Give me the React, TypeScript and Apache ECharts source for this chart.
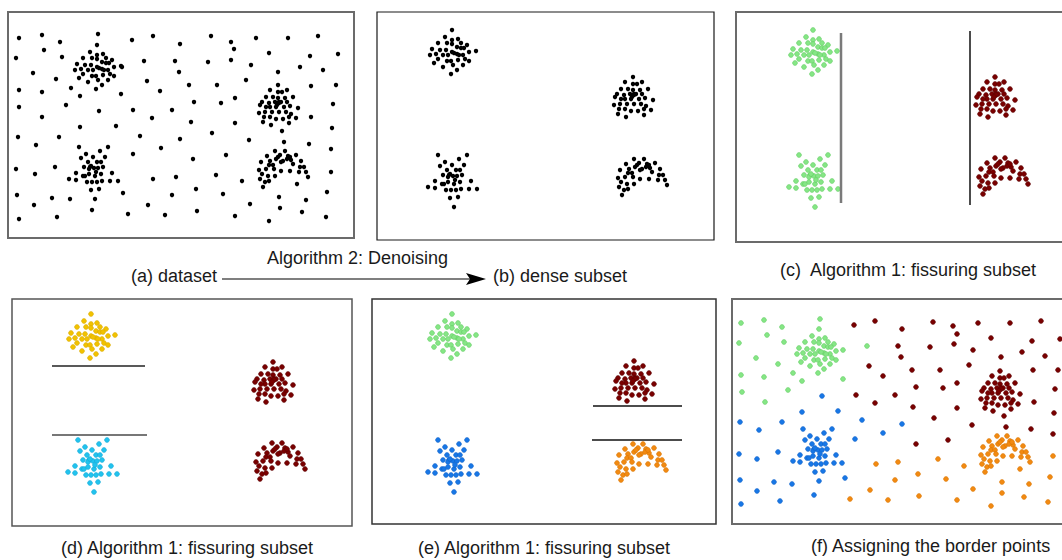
import React, { useEffect, useRef } from "react";
import * as echarts from "echarts";

// ---- cluster shapes (offsets from each cluster's centre, px units) ----
const CLUSTER_DIAMOND: number[][] = [[-1,-23],[-8,-16],[-1,-13],[5,-14],[-15,-10],[-6,-10],[-1,-9],[8,-10],[14,-8],[-21,-4],[-13,-3],[-7,-3],[4,-6],[8,-5],[11,-5],[23,-2],[-23,2],[-17,1],[-10,2],[-5,2],[-1,-1],[4,1],[10,2],[16,-1],[-15,6],[-6,8],[-2,8],[5,7],[12,6],[-19,10],[-10,14],[0,12],[10,12],[16,8],[4,17],[-2,21],[1,0],[6,2]];
const CLUSTER_BLOB: number[][] = [[0,-20],[-8,-15],[0,-13],[4,-13],[9,-15],[-12,-8],[-5,-8],[0,-7],[7,-7],[15,-8],[-16,-3],[-9,-2],[-3,-3],[1,-3],[3,-3],[9,-3],[-8,2],[-2,2],[6,2],[12,1],[-18,0],[20,3],[-19,8],[-13,7],[-6,7],[1,7],[8,7],[13,9],[-14,12],[-8,12],[-2,14],[5,14],[11,12],[18,13],[-15,17],[-7,20],[11,18],[1,-2],[-1,0],[-12,2]];
const CLUSTER_STAR: number[][] = [[-14,-22],[15,-22],[-7,-15],[7,-18],[-12,-11],[0,-12],[12,-12],[-5,-7],[4,-7],[8,-7],[-9,-2],[-3,-2],[1,-1],[5,-1],[10,-2],[-17,4],[-10,7],[-8,7],[-4,5],[2,7],[8,5],[19,4],[-24,10],[-17,11],[-6,13],[-1,13],[4,13],[9,12],[17,12],[25,12],[-2,21],[6,20],[2,30],[-4,0],[-2,-3],[3,3]];
const CLUSTER_ARC: number[][] = [[-8,-18],[2,-18],[-16,-13],[-3,-14],[5,-13],[13,-14],[-13,-8],[-7,-10],[0,-8],[8,-9],[18,-8],[-22,-7],[-14,-4],[-10,-4],[-2,-7],[4,-10],[10,-5],[17,-2],[21,-2],[-24,1],[-17,0],[-9,0],[-2,2],[7,2],[16,3],[23,3],[-21,5],[-15,7],[-8,7],[25,8],[-23,10],[-18,13],[-14,12],[-20,18],[7,-12],[-5,-12]];

// ---- cluster centres per panel [diamond, blob, star, arc] ----
const CENTERS_A: number[][] = [[90,56],[270,93],[85,157],[275,157]];
const CENTERS_B: number[][] = [[76,41],[256,85],[75,165],[265,165]];
const CENTERS_C: number[][] = [[78,41],[259,85],[77,165],[267,164]];
const CENTERS_D: number[][] = [[80,38],[261,83],[80,163],[268,162]];
const CENTERS_E: number[][] = [[81,38],[262,82],[80,163],[269,163]];
const CENTERS_F: number[][] = [[88,53],[268,92],[85,152],[273,155]];

// ---- noise points of the full dataset (panel a) ----
const NOISE_A: number[][] = [[11,26],[34,23],[52,30],[90,22],[124,28],[145,24],[172,32],[203,24],[223,30],[248,26],[280,26],[310,24],
[8,46],[36,38],[54,45],[136,49],[167,49],[200,50],[223,48],[226,37],[261,41],[302,44],[330,42],
[25,61],[48,67],[114,55],[139,69],[171,60],[243,53],[270,60],[292,55],[315,58],
[11,78],[34,80],[63,76],[72,84],[113,82],[152,79],[181,73],[209,73],[238,68],[303,74],[328,73],
[11,95],[58,93],[91,99],[125,98],[164,98],[186,90],[213,91],[227,86],[325,92],
[34,105],[144,106],[183,110],[227,111],[303,105],
[72,115],[108,114],[324,116],
[10,125],[51,125],[132,124],[172,127],[204,121],[241,128],[274,119],[276,130],
[28,133],[153,136],[301,132],[323,137],
[125,142],[185,147],[218,143],
[8,157],[47,155],[27,162],[145,167],[168,165],[208,163],[234,169],[323,160],
[289,172],[115,181],[164,183],[188,177],[215,182],[319,180],
[9,183],[44,186],[62,187],[271,185],[298,188],
[26,193],[140,193],[242,192],[272,196],
[84,198],[120,202],[157,203],[189,199],[227,204],[294,200],[318,205],
[11,207],[49,205],[261,209]];

// ---- border points assigned in panel f ----
const F_GREEN: number[][] = [[9,24],[32,21],[50,28],[88,20],[35,36],[7,44],[52,43],[24,59],[46,65],[9,76],[32,78],[61,74],[70,82],[111,80],[10,93],[56,91],[33,103],[135,47]];
const F_RED: number[][] = [[122,26],[143,22],[170,30],[201,23],[221,27],[225,35],[246,24],[278,24],[309,22],[166,47],[198,48],[222,45],[241,51],[259,39],[300,42],[328,40],[290,53],[313,57],[269,58],[137,67],[169,58],[180,71],[208,71],[237,66],[301,71],[326,71],[151,77],[184,88],[211,89],[225,84],[323,90],[124,96],[163,96],[143,104],[181,108],[225,109],[302,103],[202,119],[240,126],[272,117],[274,128],[322,114],[299,130],[321,135],[184,145],[216,141]];
const F_BLUE: number[][] = [[90,97],[70,113],[106,112],[8,123],[50,123],[27,131],[130,121],[170,125],[151,134],[123,140],[7,155],[46,153],[25,160],[113,179],[8,181],[42,183],[60,185],[25,192],[82,196],[48,202],[9,205]];
const F_ORANGE: number[][] = [[144,165],[166,163],[206,160],[232,167],[186,175],[163,181],[214,180],[138,191],[118,200],[156,201],[187,197],[225,201],[241,190],[270,183],[270,194],[259,207],[292,198],[297,185],[316,203],[318,178],[321,157],[288,170]];

// ---- fissuring lines ----
const C_LINES: number[][][] = [[[105,21],[105,191]],[[234,19],[234,193]]];
const D_LINES: number[][][] = [[[40,67],[133,67]],[[40,136],[135,136]]];
const E_LINES: number[][][] = [[[221,107],[310,107]],[[220,141],[310,141]]];

// ---- captions ----
const CAPTIONS = {
  arrow: "Algorithm 2: Denoising",
  a: "(a) dataset",
  b: "(b) dense subset",
  c: "(c)  Algorithm 1: fissuring subset",
  d: "(d) Algorithm 1: fissuring subset",
  e: "(e) Algorithm 1: fissuring subset",
  f: "(f) Assigning the border points",
};

const BLACK = "#000000";
const GREEN = "#86e686";
const DARKRED = "#7a0000";
const GOLD = "#f2c200";
const CYAN = "#22c3ee";
const BLUE = "#1877e6";
const ORANGE = "#f28a12";

const BORDER: Record<string, string> = {
  [BLACK]: BLACK,
  [GREEN]: "#62cc62",
  [DARKRED]: "#5a0000",
  [GOLD]: "#d9a900",
  [CYAN]: "#10a9d6",
  [BLUE]: "#0f62c8",
  [ORANGE]: "#d97300",
};

const SHAPES = [CLUSTER_DIAMOND, CLUSTER_BLOB, CLUSTER_STAR, CLUSTER_ARC];

export default function App() {
  const ref = useRef<HTMLDivElement>(null);
  useEffect(() => {
    if (!ref.current) return;
    const chart = echarts.init(ref.current, undefined, { renderer: "svg" });

    const boxes = [
      { left: 8, top: 12, width: 346, height: 226, border: "#6b6b6b", bw: 2 },
      { left: 377, top: 12, width: 337, height: 228, border: "#1a1a1a", bw: 1.2 },
      { left: 736, top: 12, width: 340, height: 230, border: "#6b6b6b", bw: 2 },
      { left: 12, top: 299, width: 340, height: 227, border: "#555555", bw: 1.5 },
      { left: 372, top: 299, width: 344, height: 225, border: "#333333", bw: 1.5 },
      { left: 732, top: 299, width: 340, height: 225, border: "#6b6b6b", bw: 2 },
    ];
    const centers = [CENTERS_A, CENTERS_B, CENTERS_C, CENTERS_D, CENTERS_E, CENTERS_F];
    const clusterColors = [
      [BLACK, BLACK, BLACK, BLACK],
      [BLACK, BLACK, BLACK, BLACK],
      [GREEN, DARKRED, GREEN, DARKRED],
      [GOLD, DARKRED, CYAN, DARKRED],
      [GREEN, DARKRED, BLUE, ORANGE],
      [GREEN, DARKRED, BLUE, ORANGE],
    ];

    const grid: any[] = [];
    const xAxis: any[] = [];
    const yAxis: any[] = [];
    const series: any[] = [];

    const scatter = (i: number, data: number[][], color: string) => {
      const black = color === BLACK;
      series.push({
        type: "scatter",
        xAxisIndex: i,
        yAxisIndex: i,
        data,
        symbolSize: black ? 4.4 : 4.8,
        silent: true,
        itemStyle: {
          color,
          borderColor: BORDER[color],
          borderWidth: black ? 0 : 0.6,
          opacity: 1,
        },
      });
    };
    const lines = (i: number, segs: number[][][], styles: { color: string; width: number }[]) => {
      segs.forEach((seg, k) => {
        series.push({
          type: "line",
          xAxisIndex: i,
          yAxisIndex: i,
          data: seg,
          symbol: "none",
          silent: true,
          lineStyle: { color: styles[k].color, width: styles[k].width },
        });
      });
    };

    boxes.forEach((b, i) => {
      grid.push({
        left: b.left,
        top: b.top,
        width: b.width,
        height: b.height,
        show: true,
        borderColor: b.border,
        borderWidth: b.bw,
        backgroundColor: "#ffffff",
      });
      xAxis.push({ gridIndex: i, type: "value", min: 0, max: b.width, show: false });
      yAxis.push({ gridIndex: i, type: "value", min: 0, max: b.height, inverse: true, show: false });
      SHAPES.forEach((shape, k) => {
        const c = centers[i][k];
        scatter(i, shape.map((p) => [c[0] + p[0], c[1] + p[1]]), clusterColors[i][k]);
      });
    });

    scatter(0, NOISE_A, BLACK);
    scatter(5, F_GREEN, GREEN);
    scatter(5, F_RED, DARKRED);
    scatter(5, F_BLUE, BLUE);
    scatter(5, F_ORANGE, ORANGE);

    lines(2, C_LINES, [{ color: "#7a7a7a", width: 2.5 }, { color: "#111111", width: 1.5 }]);
    lines(3, D_LINES, [{ color: "#222222", width: 1.5 }, { color: "#777777", width: 2 }]);
    lines(4, E_LINES, [{ color: "#111111", width: 1.5 }, { color: "#111111", width: 1.5 }]);

    const font = { fontSize: 18, fontFamily: '"Liberation Sans", Arial, sans-serif', fill: "#1a1a1a" };
    const txt = (text: string, x: number, y: number, align: string) => ({
      type: "text",
      x,
      y,
      silent: true,
      style: { text, ...font, align, verticalAlign: "middle" },
    });

    chart.setOption({
      animation: false,
      backgroundColor: "#ffffff",
      grid,
      xAxis,
      yAxis,
      series,
      graphic: [
        txt(CAPTIONS.arrow, 267, 258, "left"),
        txt(CAPTIONS.a, 217, 276, "right"),
        txt(CAPTIONS.b, 493, 276, "left"),
        txt(CAPTIONS.c, 780, 270, "left"),
        txt(CAPTIONS.d, 61, 548, "left"),
        txt(CAPTIONS.e, 418, 548, "left"),
        txt(CAPTIONS.f, 811, 546, "left"),
        {
          type: "line",
          silent: true,
          shape: { x1: 222, y1: 279, x2: 472, y2: 279 },
          style: { stroke: "#555555", lineWidth: 1.4 },
        },
        {
          type: "polygon",
          silent: true,
          shape: { points: [[466, 273], [486, 279], [466, 285], [470, 279]] },
          style: { fill: "#000000" },
        },
      ],
    });
    return () => chart.dispose();
  }, []);
  return (
    <div style={{ position: "absolute", left: 0, top: 0, width: 1062, height: 560, overflow: "hidden", background: "#fff" }}>
      <div ref={ref} style={{ width: 1100, height: 560 }} />
    </div>
  );
}
